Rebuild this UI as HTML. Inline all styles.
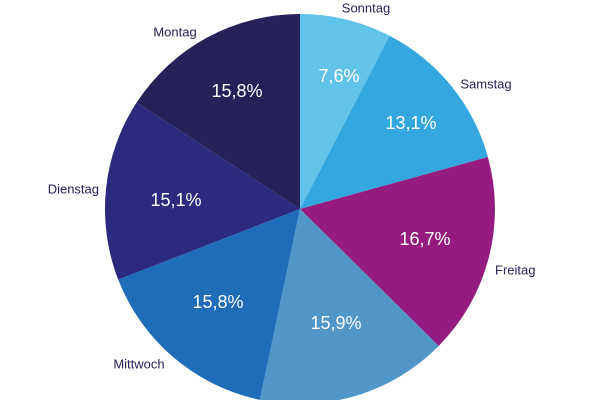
<!DOCTYPE html>
<html><head><meta charset="utf-8"><style>html,body{margin:0;padding:0;background:#fff;overflow:hidden}</style></head>
<body>
<svg width="600" height="400" xmlns="http://www.w3.org/2000/svg" font-family="Liberation Sans, sans-serif">
<g stroke="none">
<path d="M300,209 L300,14 A195,195 0 0 1 389.6,35.8 Z" fill="#62c3ea"/>
<path d="M300,209 L389.6,35.8 A195,195 0 0 1 487.9,157.0 Z" fill="#35a7df"/>
<path d="M300,209 L487.9,157.0 A195,195 0 0 1 438.7,346.0 Z" fill="#951b80"/>
<path d="M300,209 L438.7,346.0 A195,195 0 0 1 259.9,399.8 Z" fill="#5096c8"/>
<path d="M300,209 L259.9,399.8 A195,195 0 0 1 118.2,279.6 Z" fill="#1f6cb8"/>
<path d="M300,209 L118.2,279.6 A195,195 0 0 1 136.7,102.4 Z" fill="#2c2a7f"/>
<path d="M300,209 L136.7,102.4 A195,195 0 0 1 300,14 Z" fill="#262158"/>
</g>
<g fill="#fff" font-size="18" text-anchor="middle" dominant-baseline="central">
<text x="339" y="76">7,6%</text>
<text x="411" y="123">13,1%</text>
<text x="425" y="239">16,7%</text>
<text x="336" y="323">15,9%</text>
<text x="218" y="302">15,8%</text>
<text x="176" y="200">15,1%</text>
<text x="237" y="91">15,8%</text>
</g>
<g fill="#262158" font-size="13" dominant-baseline="central">
<text x="366" y="8" text-anchor="middle">Sonntag</text>
<text x="486" y="84" text-anchor="middle">Samstag</text>
<text x="495" y="270">Freitag</text>
<text x="139" y="364" text-anchor="middle">Mittwoch</text>
<text x="99" y="189" text-anchor="end">Dienstag</text>
<text x="175" y="32" text-anchor="middle">Montag</text>
</g>
</svg>
</body></html>
